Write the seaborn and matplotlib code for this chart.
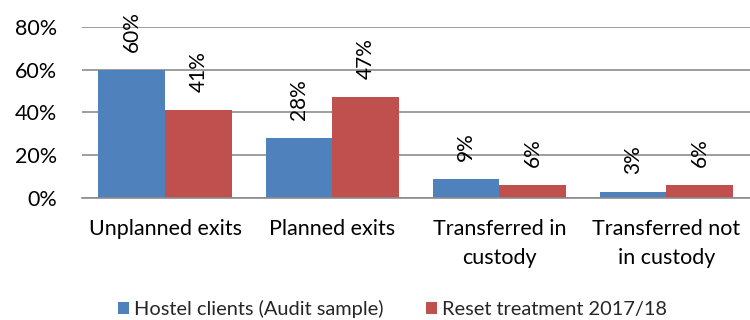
import matplotlib
matplotlib.use("Agg")
import matplotlib.pyplot as plt
import seaborn as sns
import pandas as pd
from matplotlib.ticker import FixedLocator, PercentFormatter
from matplotlib.patches import Patch

categories = ["Unplanned exits", "Planned exits", "Transferred in\ncustody", "Transferred not\nin custody"]
series = ["Hostel clients (Audit sample)", "Reset treatment 2017/18"]
hostel = [60, 28, 9, 3]
reset = [41, 47, 6, 6]
colors = ["#4F81BD", "#C0504D"]

df = pd.DataFrame({
    "category": categories * 2,
    "series": [series[0]] * 4 + [series[1]] * 4,
    "value": hostel + reset,
})

sns.set_theme(style="white")
plt.rcParams["font.family"] = ["Lato", "DejaVu Sans"]

fig = plt.figure(figsize=(7.5, 3.2), dpi=100)
ax = fig.add_axes([0.109, 0.381, 0.891, 0.535])

sns.barplot(data=df, x="category", y="value", hue="series", palette=colors,
            width=0.8, gap=0, saturation=1, linewidth=0, ax=ax, legend=False)

ax.set_ylim(0, 80)
ax.set_xlim(-0.5, 3.5)
ax.yaxis.set_major_locator(FixedLocator([0, 20, 40, 60, 80]))
ax.yaxis.set_major_formatter(PercentFormatter(decimals=0))
ax.grid(axis="y", color="#8C8C8C", linewidth=1.2)
ax.set_axisbelow(True)
for s in ["left", "right", "top"]:
    ax.spines[s].set_visible(False)
ax.spines["bottom"].set_color("#8C8C8C")
ax.spines["bottom"].set_linewidth(1.2)

ax.tick_params(axis="y", length=0, pad=18, labelsize=15.5, labelcolor="black")
ax.tick_params(axis="x", which="major", length=0, pad=15, labelsize=15.5, labelcolor="black")
for lbl in ax.get_xticklabels():
    lbl.set_linespacing(1.55)
ax.set_xticks([-0.5, 0.5, 1.5, 2.5, 3.5], minor=True)
ax.tick_params(axis="x", which="minor", length=6, width=1.2, color="#8C8C8C", direction="out")
ax.set_xlabel("")
ax.set_ylabel("")

for cont in ax.containers:
    for bar in cont:
        h = bar.get_height()
        ax.annotate(f"{h:.0f}%", (bar.get_x() + bar.get_width() / 2, h),
                    xytext=(0, 13), textcoords="offset points",
                    rotation=90, ha="center", va="bottom", fontsize=15, color="black")

handles = [Patch(facecolor=c, edgecolor="none") for c in colors]
fig.legend(handles, series, loc="lower center", bbox_to_anchor=(0.523, -0.05), ncol=2,
           frameon=False, fontsize=14.4, handlelength=0.55, handleheight=0.55,
           handletextpad=0.25, columnspacing=2.1)

fig.savefig("out.png", dpi=100)
